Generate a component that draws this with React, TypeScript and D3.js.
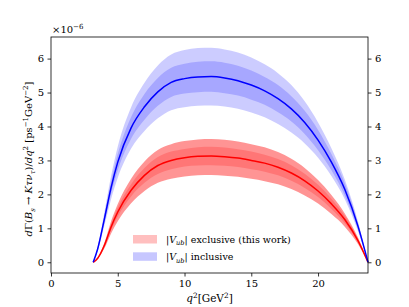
import React, { useEffect, useRef } from 'react';
import * as d3 from 'd3';

// q^2 grid (GeV^2) and curves, values in units of 1e-6
const q2 = [3.16, 3.5, 4, 4.5, 5, 6, 7, 8, 9, 10, 11, 12, 13, 14, 15, 16, 17, 18, 19, 20, 21, 22, 23, 23.74];

const blueMid = [0, 0.4, 1.28, 2.2, 2.95, 3.96, 4.58, 5.02, 5.3, 5.41, 5.46, 5.47, 5.43, 5.35, 5.22, 5.05, 4.82, 4.52, 4.12, 3.6, 2.95, 2.15, 1.05, 0];
const blueInHi = [0, 0.43, 1.38, 2.38, 3.19, 4.28, 4.96, 5.43, 5.73, 5.85, 5.91, 5.92, 5.88, 5.79, 5.65, 5.46, 5.22, 4.89, 4.46, 3.9, 3.19, 2.33, 1.14, 0];
const blueInLo = [0, 0.37, 1.18, 2.02, 2.71, 3.64, 4.2, 4.61, 4.87, 4.97, 5.01, 5.02, 4.98, 4.91, 4.79, 4.64, 4.42, 4.15, 3.78, 3.3, 2.71, 1.97, 0.96, 0];
const blueOutHi = [0, 0.46, 1.48, 2.54, 3.41, 4.57, 5.29, 5.8, 6.12, 6.25, 6.31, 6.32, 6.27, 6.18, 6.03, 5.83, 5.57, 5.22, 4.74, 4.12, 3.36, 2.44, 1.19, 0];
const blueOutLo = [0, 0.34, 1.08, 1.86, 2.49, 3.35, 3.87, 4.24, 4.48, 4.57, 4.61, 4.62, 4.59, 4.52, 4.41, 4.27, 4.07, 3.82, 3.5, 3.08, 2.54, 1.86, 0.91, 0];

const redMid = [0, 0.12, 0.5, 1.04, 1.48, 2.12, 2.56, 2.85, 3.0, 3.08, 3.12, 3.13, 3.11, 3.07, 3.0, 2.92, 2.8, 2.63, 2.4, 2.1, 1.72, 1.26, 0.63, 0];
const redInHi = [0, 0.13, 0.54, 1.13, 1.61, 2.3, 2.78, 3.1, 3.26, 3.34, 3.39, 3.4, 3.38, 3.33, 3.26, 3.17, 3.04, 2.86, 2.61, 2.28, 1.87, 1.37, 0.68, 0];
const redInLo = [0, 0.11, 0.46, 0.95, 1.35, 1.94, 2.34, 2.6, 2.74, 2.82, 2.85, 2.86, 2.84, 2.81, 2.74, 2.67, 2.56, 2.4, 2.19, 1.92, 1.57, 1.15, 0.58, 0];
const redOutHi = [0, 0.14, 0.58, 1.21, 1.72, 2.46, 2.97, 3.31, 3.48, 3.57, 3.62, 3.63, 3.61, 3.56, 3.48, 3.39, 3.25, 3.05, 2.78, 2.42, 1.98, 1.44, 0.72, 0];
const redOutLo = [0, 0.1, 0.41, 0.85, 1.21, 1.74, 2.1, 2.34, 2.46, 2.53, 2.56, 2.57, 2.55, 2.52, 2.46, 2.39, 2.3, 2.16, 1.97, 1.73, 1.42, 1.05, 0.53, 0];

const xTicks = [0, 5, 10, 15, 20];
const yTicks = [0, 1, 2, 3, 4, 5, 6];

const W = 409, H = 307;
const margin = { top: 37, right: 41, bottom: 34, left: 51 };
const FONT = 'DejaVu Serif';

type Part = { t: string; it?: boolean; sub?: boolean; sup?: boolean };

function rich(text: any, parts: Part[], size: number) {
  let shift = 0;
  text.style('font-family', FONT).attr('fill', '#000');
  parts.forEach(p => {
    const target = p.sup ? -0.4 * size : p.sub ? 0.25 * size : 0;
    text.append('tspan').text(p.t)
      .attr('dy', target - shift)
      .style('font-family', FONT)
      .style('font-size', ((p.sup || p.sub) ? size * 0.7 : size) + 'px')
      .style('font-style', p.it ? 'italic' : 'normal');
    shift = target;
  });
}

export default function App() {
  const ref = useRef<SVGSVGElement>(null);

  useEffect(() => {
    const svg = d3.select(ref.current);
    svg.selectAll('*').remove();
    const w = W - margin.left - margin.right;
    const h = H - margin.top - margin.bottom;

    const x = d3.scaleLinear().domain([0, 23.74]).range([0, w]);
    const y = d3.scaleLinear().domain([-0.316, 6.636]).range([h, 0]);

    const g = svg.append('g').attr('transform', `translate(${margin.left},${margin.top})`);

    const band = (lo: number[], hi: number[]) =>
      d3.area<number>().x(i => x(q2[i])).y0(i => y(lo[i])).y1(i => y(hi[i])).curve(d3.curveMonotoneX)(d3.range(q2.length));
    const line = (v: number[]) =>
      d3.line<number>().x(i => x(q2[i])).y(i => y(v[i])).curve(d3.curveMonotoneX)(d3.range(q2.length));

    // red bands
    g.append('path').attr('d', band(redOutLo, redOutHi)).attr('fill', '#ff0000').attr('fill-opacity', 0.42);
    g.append('path').attr('d', band(redInLo, redInHi)).attr('fill', '#ff0000').attr('fill-opacity', 0.2);
    g.append('path').attr('d', line(redMid)).attr('fill', 'none').attr('stroke', '#ff0000').attr('stroke-width', 1.5);

    // blue bands
    g.append('path').attr('d', band(blueOutLo, blueOutHi)).attr('fill', '#0000ff').attr('fill-opacity', 0.2);
    g.append('path').attr('d', band(blueInLo, blueInHi)).attr('fill', '#0000ff').attr('fill-opacity', 0.18);
    g.append('path').attr('d', line(blueMid)).attr('fill', 'none').attr('stroke', '#0000ff').attr('stroke-width', 1.5);

    // axes
    const styleAxis = (a: any) => {
      a.attr('font-family', null).attr('font-size', null);
      a.select('.domain').remove();
      a.selectAll('line').attr('stroke', '#000').attr('stroke-width', 0.8);
      a.selectAll('text').style('font-family', FONT).style('font-size', '10px').attr('fill', '#000');
    };
    g.append('g').attr('transform', `translate(0,${h})`)
      .call(d3.axisBottom(x).tickValues(xTicks).tickSize(3.5).tickPadding(3.5).tickFormat(d3.format('d')))
      .call(styleAxis);
    g.append('g')
      .call(d3.axisLeft(y).tickValues(yTicks).tickSize(3.5).tickPadding(3.5).tickFormat(d3.format('d')))
      .call(styleAxis);
    g.append('g').attr('transform', `translate(${w},0)`)
      .call(d3.axisRight(y).tickValues(yTicks).tickSize(3.5).tickPadding(3.5).tickFormat(d3.format('d')))
      .call(styleAxis);

    g.append('rect').attr('width', w).attr('height', h)
      .attr('fill', 'none').attr('stroke', '#000').attr('stroke-width', 0.8);

    // offset text
    const off = g.append('text').attr('x', 1).attr('y', -4);
    rich(off, [{ t: '×10' }, { t: '−6', sup: true }], 10);

    // x label
    const xl = svg.append('text').attr('x', margin.left + w / 2).attr('y', 302)
      .attr('text-anchor', 'middle');
    rich(xl, [{ t: 'q', it: true }, { t: '2', sup: true }, { t: '[GeV' }, { t: '2', sup: true }, { t: ']' }], 10.5);

    // y label
    const yl = svg.append('text')
      .attr('transform', `translate(32,${margin.top + h / 2 + 4}) rotate(-90)`)
      .attr('text-anchor', 'middle');
    rich(yl, [
      { t: 'd', it: true }, { t: 'Γ(' }, { t: 'B', it: true }, { t: 's', it: true, sub: true },
      { t: ' → ' }, { t: 'Kτν', it: true }, { t: 'τ', it: true, sub: true },
      { t: ')/' }, { t: 'dq', it: true }, { t: '2', sup: true },
      { t: ' [ps' }, { t: '−1', sup: true }, { t: 'GeV' }, { t: '−2', sup: true }, { t: ']' },
    ], 10);

    // legend
    const legend = [
      { fill: '#ff0000', op: 0.25, label: [{ t: '|' }, { t: 'V', it: true }, { t: 'ub', it: true, sub: true }, { t: '| exclusive (this work)' }] },
      { fill: '#0000ff', op: 0.22, label: [{ t: '|' }, { t: 'V', it: true }, { t: 'ub', it: true, sub: true }, { t: '| inclusive' }] },
    ];
    legend.forEach((d, i) => {
      const ly = 235 + i * 17.3;
      svg.append('rect').attr('x', 133).attr('y', ly).attr('width', 24).attr('height', 8.5)
        .attr('fill', d.fill).attr('fill-opacity', d.op);
      const t = svg.append('text').attr('x', 166).attr('y', ly + 8);
      rich(t, d.label, 9.5);
    });
  }, []);

  return (
    <svg ref={ref} width={W} height={H}
      style={{ position: 'absolute', left: 0, top: 0, background: '#fff' }} />
  );
}
